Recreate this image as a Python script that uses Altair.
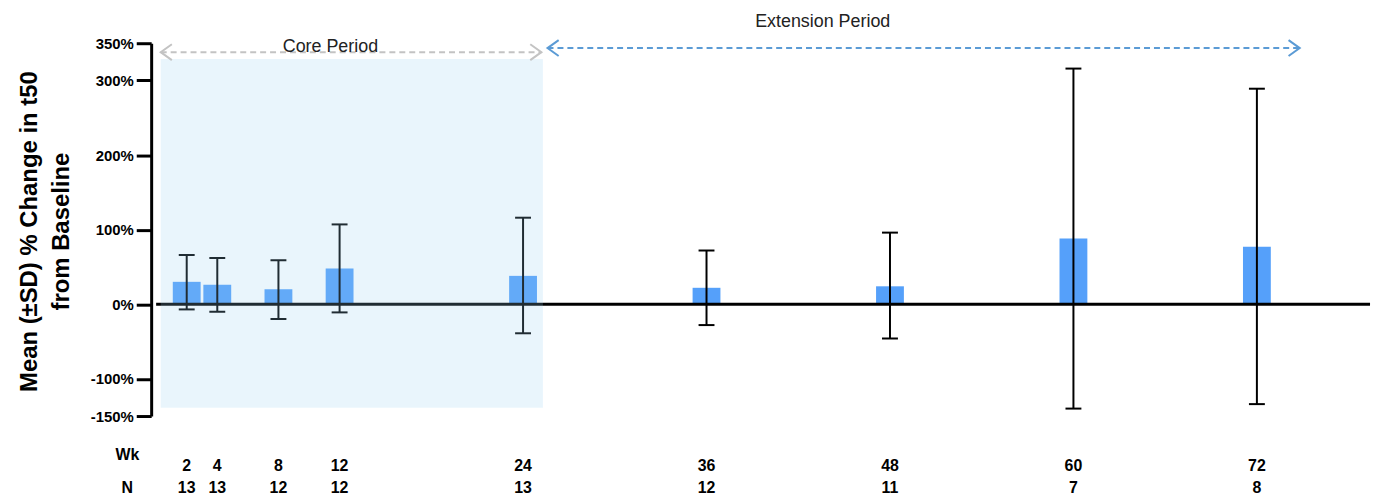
import altair as alt
import pandas as pd

# ---- data ----
weeks = [2, 4, 8, 12, 24, 36, 48, 60, 72]
mean_change = [30, 26, 20, 48, 38, 22, 24, 88, 77]
sd_upper = [66, 62, 59, 107, 116, 72, 96, 316, 289]
sd_lower = [-7, -10, -20, -11, -39, -28, -46, -140, -134]
n_subjects = [13, 13, 12, 12, 13, 12, 11, 7, 8]
y_ticks = [-150, -100, 0, 100, 200, 300, 350]

# period annotations (in axis units)
core_shade_x = [0.3, 25.3]
core_shade_y = [-139, 329]
core_arrow_x = [0.3, 25.2]
core_arrow_y = 338
ext_arrow_x = [25.6, 74.8]
ext_arrow_y = 343.5
period_labels = ["Core Period", "Extension Period"]
period_label_x = [11.4, 43.6]
period_label_y = [338.5, 372]

X_MAX = 79.4
FONT = "Liberation Sans, Arial, sans-serif"

df = pd.DataFrame({
    "week": weeks, "mean": mean_change, "upper": sd_upper,
    "lower": sd_lower, "n": n_subjects,
})
df["wk_label"] = df["week"].astype(str)
df["n_label"] = df["n"].astype(str)

xs = alt.Scale(domain=[0, X_MAX], nice=False, zero=False)
ys = alt.Scale(domain=[-150, 350], nice=False, zero=False)

yaxis = alt.Axis(
    values=y_ticks, labelExpr="datum.value + '%'", grid=False,
    domainWidth=3, domainColor="black", tickWidth=3, tickSize=15,
    tickColor="black", labelFont=FONT, labelFontSize=15,
    labelFontWeight="bold", labelColor="black", labelPadding=3,
    title=["Mean (±SD) % Change in t50", "from Baseline"],
    titleFont=FONT, titleFontSize=24, titleFontWeight="bold",
    titleColor="black", titleLineHeight=32, titleAngle=270,
    titleAlign="center", titleBaseline="middle", titleX=-122, titleY=189,
)

base = alt.Chart(df)

bars = base.mark_bar(size=28, color="#55A0FA").encode(
    x=alt.X("week:Q", scale=xs, axis=None),
    y=alt.Y("mean:Q", scale=ys, axis=yaxis),
)

zero_df = pd.DataFrame({"x0": [0], "x1": [X_MAX], "y": [0]})
zero_line = alt.Chart(zero_df).mark_rule(color="black", strokeWidth=3).encode(
    x=alt.X("x0:Q", scale=xs, axis=None), x2="x1:Q",
    y=alt.Y("y:Q", scale=ys, axis=None),
)

err = base.mark_rule(color="black", strokeWidth=2).encode(
    x=alt.X("week:Q", scale=xs, axis=None),
    y=alt.Y("lower:Q", scale=ys, axis=None), y2="upper:Q",
)
cap_hi = base.mark_tick(orient="horizontal", size=16, thickness=2, color="black", opacity=1).encode(
    x=alt.X("week:Q", scale=xs, axis=None),
    y=alt.Y("upper:Q", scale=ys, axis=None),
)
cap_lo = base.mark_tick(orient="horizontal", size=16, thickness=2, color="black", opacity=1).encode(
    x=alt.X("week:Q", scale=xs, axis=None),
    y=alt.Y("lower:Q", scale=ys, axis=None),
)

shade_df = pd.DataFrame({"x0": [core_shade_x[0]], "x1": [core_shade_x[1]],
                         "y0": [core_shade_y[0]], "y1": [core_shade_y[1]]})
shade = alt.Chart(shade_df).mark_rect(color="#98D2F2", opacity=0.21).encode(
    x=alt.X("x0:Q", scale=xs, axis=None), x2="x1:Q",
    y=alt.Y("y0:Q", scale=ys, axis=None), y2="y1:Q",
)

arrow_df = pd.DataFrame({
    "x0": [core_arrow_x[0], ext_arrow_x[0]],
    "x1": [core_arrow_x[1], ext_arrow_x[1]],
    "y": [core_arrow_y, ext_arrow_y],
    "period": ["core", "ext"],
})
color_scale = alt.Scale(domain=["core", "ext"], range=["#C3C3C3", "#5B9BD5"])

arrow_lines = alt.Chart(arrow_df).mark_rule(strokeWidth=2, strokeDash=[6, 4]).encode(
    x=alt.X("x0:Q", scale=xs, axis=None), x2="x1:Q",
    y=alt.Y("y:Q", scale=ys, axis=None),
    color=alt.Color("period:N", scale=color_scale, legend=None),
)
left_heads = alt.Chart(arrow_df).mark_point(
    shape="M1.4,-1L0,0L1.4,1", filled=False, strokeWidth=2, size=256, opacity=1
).encode(
    x=alt.X("x0:Q", scale=xs, axis=None),
    y=alt.Y("y:Q", scale=ys, axis=None),
    color=alt.Color("period:N", scale=color_scale, legend=None),
)
right_heads = alt.Chart(arrow_df).mark_point(
    shape="M-1.4,-1L0,0L-1.4,1", filled=False, strokeWidth=2, size=256, opacity=1
).encode(
    x=alt.X("x1:Q", scale=xs, axis=None),
    y=alt.Y("y:Q", scale=ys, axis=None),
    color=alt.Color("period:N", scale=color_scale, legend=None),
)

label_df = pd.DataFrame({"text": period_labels, "x": period_label_x, "y": period_label_y})
period_text = alt.Chart(label_df).mark_text(
    font=FONT, fontSize=18, color="#222222", baseline="alphabetic", align="center"
).encode(
    x=alt.X("x:Q", scale=xs, axis=None),
    y=alt.Y("y:Q", scale=ys, axis=None),
    text="text:N",
)

wk_text = base.mark_text(font=FONT, fontSize=16, fontWeight="bold", color="black",
                         baseline="middle", align="center").encode(
    x=alt.X("week:Q", scale=xs, axis=None), y=alt.value(425), text="wk_label:N",
)
n_text = base.mark_text(font=FONT, fontSize=16, fontWeight="bold", color="black",
                        baseline="middle", align="center").encode(
    x=alt.X("week:Q", scale=xs, axis=None), y=alt.value(447), text="n_label:N",
)

row_df = pd.DataFrame({"text": ["Wk", "N"], "row": [0, 1]})
row_text = alt.Chart(row_df).mark_text(font=FONT, fontSize=16, fontWeight="bold",
                                       color="black", baseline="middle", align="center").encode(
    x=alt.value(-24),
    y=alt.Y("row:Q", scale=alt.Scale(domain=[0, 1], range=[414, 447]), axis=None),
    text="text:N",
)

chart = alt.layer(
    bars, zero_line, err, cap_hi, cap_lo, shade,
    arrow_lines, left_heads, right_heads, period_text,
    wk_text, n_text, row_text,
).resolve_scale(y="independent").properties(
    width=1231, height=375, background="white",
    autosize=alt.AutoSizeParams(type="none"),
    padding={"left": 144, "top": 34, "right": 0, "bottom": 80},
).configure_view(strokeWidth=0)

chart.save("out.html", embed_options={"renderer": "svg", "actions": False})
